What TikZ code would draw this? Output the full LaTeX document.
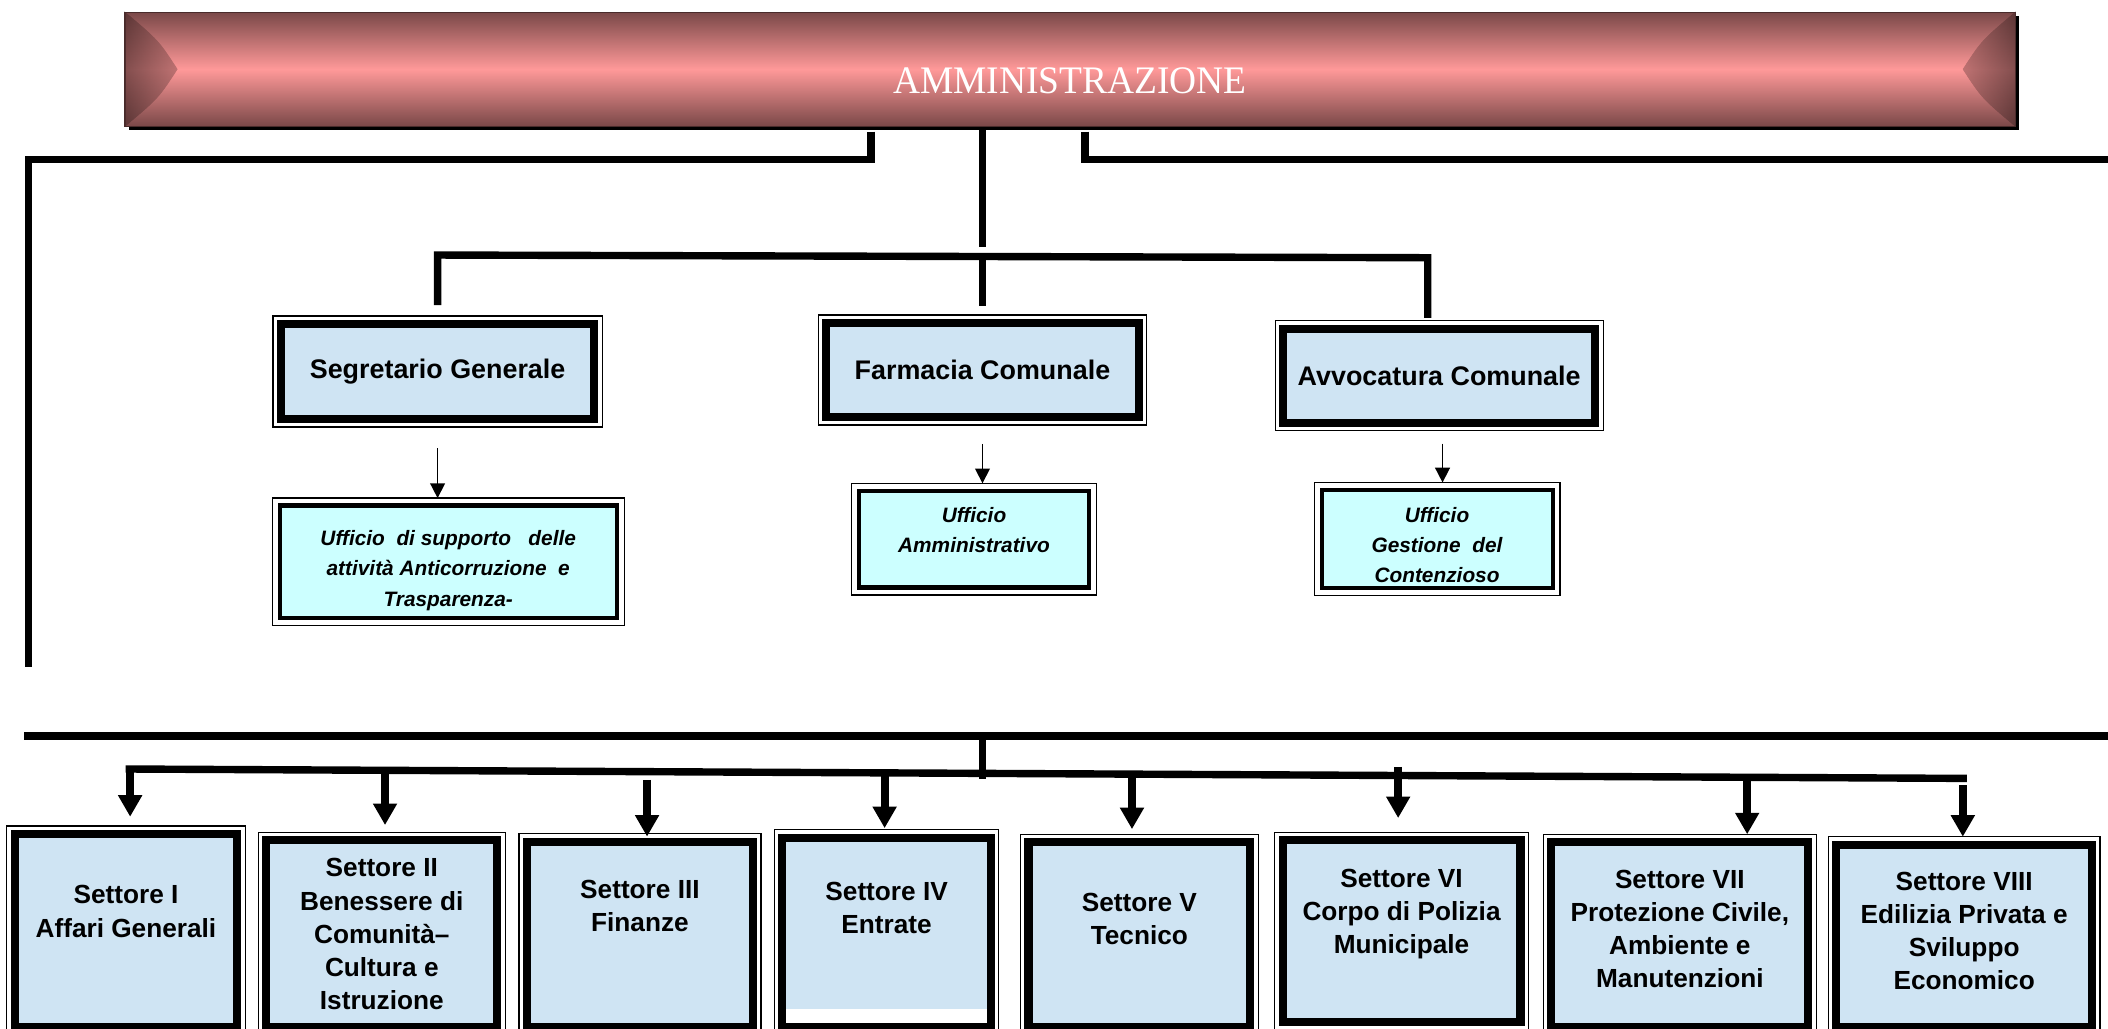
\documentclass[tikz,border=0pt]{standalone}
\usepackage{fontspec}
\setmainfont{Liberation Sans}
\newfontfamily\titlefont{Liberation Serif}[FakeStretch=0.96]
\usetikzlibrary{arrows.meta,shadows}

\definecolor{bandark}{HTML}{7A4848}
\definecolor{banpink}{HTML}{FF9999}
\definecolor{boxblue}{HTML}{CFE4F3}
\definecolor{boxcyan}{HTML}{CCFFFF}

\tikzset{
  conn/.style={line width=5.5pt},
  bigarrow/.style={line width=6pt, -{Triangle[width=17pt,length=16pt]}},
  smallarrow/.style={line width=1.2pt, -{Triangle[width=11pt,length=11pt]}},
  sbox/.style={draw, line width=6pt, fill=boxblue, outer sep=6pt, inner sep=0pt,
    align=center, font=\bfseries\fontsize{20}{24}\selectfont},
  ubox/.style={draw, line width=3pt, fill=boxcyan, outer sep=5.5pt, inner sep=0pt},
  utext/.style={align=center, font=\bfseries\itshape\fontsize{15.5}{22.5}\selectfont},
  stext/.style={align=center, font=\bfseries\fontsize{19.5}{24.7}\selectfont},
  frame/.style={line width=0.9pt},
}

\begin{document}
\begin{tikzpicture}[x=1pt,y=-1pt]
\useasboundingbox (0,0) rectangle (1568,765);
\clip (0,0) rectangle (1568,765);

% banner
\node[draw=bandark!60!black, line width=0.8pt, top color=bandark, bottom color=bandark,
  middle color=banpink, minimum width=1406pt, minimum height=85pt, text=white,
  text height=37pt, font=\titlefont\fontsize{29}{30}\selectfont,
  drop shadow={fill=black, opacity=1, shadow xshift=3pt, shadow yshift=-3pt}]
  (adm) at (796,51.5) {AMMINISTRAZIONE};
\fill[left color=bandark, right color=banpink, fill opacity=0.45]
  (adm.north west) .. controls (118,30) .. (132,51.5) .. controls (118,73) .. (adm.south west) -- cycle;
\fill[left color=banpink, right color=bandark, fill opacity=0.45]
  (adm.north east) .. controls (1474,30) .. (1460,51.5) .. controls (1474,73) .. (adm.south east) -- cycle;

% second level
\node[sbox, minimum width=233pt, minimum height=70.5pt] (seg) at (325.5,276.3) {Segretario Generale};
\node[sbox, minimum width=232.3pt, minimum height=69.8pt] (farm) at (730.8,275.2) {Farmacia Comunale};
\node[sbox, minimum width=232pt, minimum height=70pt] (avv) at (1070.5,279.5) {Avvocatura Comunale};

\node[ubox, minimum width=250.7pt, minimum height=84pt] (sup) at (333.4,418) {};
\node[ubox, minimum width=171pt, minimum height=72pt] (amm) at (724.5,401) {};
\node[ubox, minimum width=171.8pt, minimum height=73.2pt] (cont) at (1068.9,401) {};

% settori
\node[sbox, minimum width=165.4pt, minimum height=143.6pt] (s1) at (93.7,692.2) {};
\node[sbox, minimum width=172pt, minimum height=139pt] (s2) at (284,694.5) {};
\node[sbox, minimum width=168pt, minimum height=138pt] (s3) at (476,695) {};
\node[sbox, minimum width=155pt, minimum height=141pt] (s4) at (659.5,693.5) {};
\node[sbox, minimum width=165pt, minimum height=137.5pt] (s5) at (847.5,695.3) {};
\node[sbox, minimum width=177pt, minimum height=135pt] (s6) at (1042.5,692.5) {};
\node[sbox, minimum width=191pt, minimum height=137.5pt] (s7) at (1249.5,695.3) {};
\node[sbox, minimum width=190pt, minimum height=135.7pt] (s8) at (1461,696.2) {};
\fill[white] (585,750.6) rectangle (734,761);

\foreach \n in {seg,farm,avv,sup,amm,cont,s1,s2,s3,s4,s5,s6,s7,s8}
  \draw[frame] (\n.north west) rectangle (\n.south east);

\node[utext] (supt) at (333.4,424.3) {Ufficio~ di supporto~~ delle\\attività Anticorruzione~ e\\Trasparenza-};
\node[utext] (ammt) at (724.5,394) {Ufficio\\Amministrativo};
\node[utext] (contt) at (1068.9,405.5) {Ufficio\\Gestione~ del\\Contenzioso};

\node[stext] (s1t) at (93.7,678) {Settore I\\Affari Generali};
\node[stext] (s2t) at (284,695) {Settore II\\Benessere di\\Comunità–\\Cultura e\\Istruzione};
\node[stext] (s3t) at (476,674) {Settore III\\Finanze};
\node[stext] (s4t) at (659.5,675.5) {Settore IV\\Entrate};
\node[stext] (s5t) at (847.5,683.5) {Settore V\\Tecnico};
\node[stext] (s6t) at (1042.5,680) {Settore VI\\Corpo di Polizia\\Municipale};
\node[stext] (s7t) at (1249.5,691) {Settore VII\\Protezione Civile,\\Ambiente e\\Manutenzioni};
\node[stext] (s8t) at (1461,692.5) {Settore VIII\\Edilizia Privata e\\Sviluppo\\Economico};

% connectors from the banner
\coordinate (admL) at (648,98);
\coordinate (admC) at (731,95);
\coordinate (admR) at (807,98);
\coordinate (leftEnd) at (21,496);
\coordinate (rightEnd) at (1580,118.8);
\coordinate (topJ) at (731,184);
\coordinate (barL) at (325,189.7);
\coordinate (barR) at (1062,191.7);

\draw[conn] (admL) -- ++(0,20.8) -| (leftEnd);
\draw[conn] (admR) -- ++(0,20.8) -- (rightEnd);
\draw[conn] (admC) -- (topJ);
\draw[conn, shorten <=8pt, shorten >=2pt] (seg.north) -- (seg.north |- barL) -- (barR) -- (barR |- avv.north);
\draw[conn, shorten >=6.6pt] (farm.north |- barL) -- (farm.north);

\draw[smallarrow, shorten <=16pt] (seg.south) -- (seg.south |- sup.north);
\draw[smallarrow, shorten <=14pt] (farm.south) -- (farm.south |- amm.north);
\draw[smallarrow, shorten <=9.5pt] ([xshift=2.5pt]avv.south) -- ([xshift=2.5pt]avv.south |- cont.north);

% lower distribution
\coordinate (longL) at (18,547.6);
\coordinate (longJ) at (731,547.6);
\coordinate (longR) at (1580,547.6);
\coordinate (busJ) at (731,579.5);
\coordinate (busL) at (93.5,572);
\coordinate (busR) at (1463,579);
\draw[conn] (longL) -- (longR);
\draw[conn] (longJ) -- (busJ);
\draw[conn] (busL) -- (busR);

\foreach \n/\x/\y/\g in {s1/96.8/572/6.9, s2/286.4/573/5.3, s3/481.3/580/-2.3, s4/658/575/1,
    s5/842/576/3.8, s6/1040/570.5/10.5, s7/1299.6/578/0, s8/1460/584/0}
  \draw[bigarrow, shorten >=\g pt] (\x,\y) -- (\x,\y |- \n.north);
\end{tikzpicture}
\end{document}
